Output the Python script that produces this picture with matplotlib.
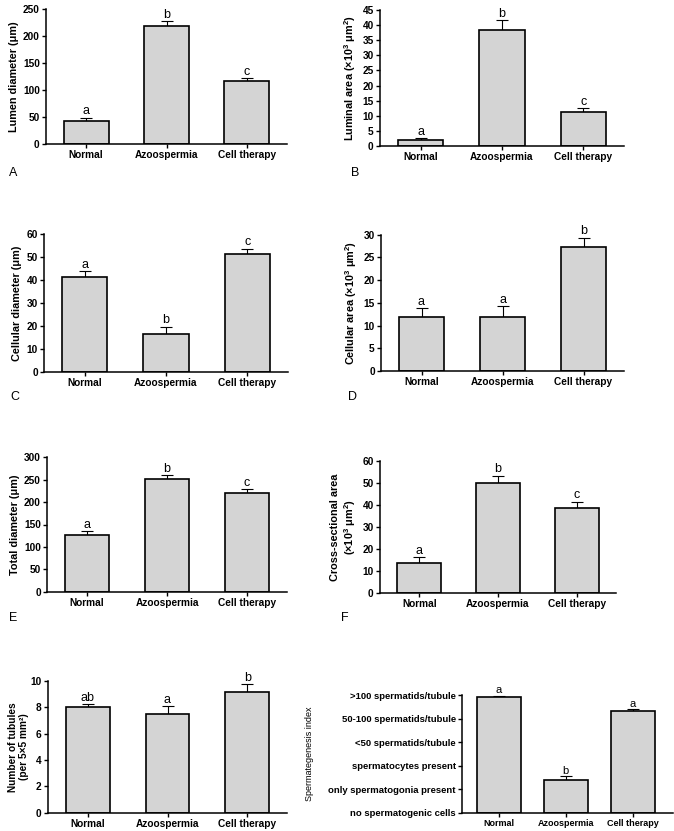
import numpy as np
import matplotlib
matplotlib.use("Agg")
import matplotlib.pyplot as plt

plt.rcParams['font.family'] = ['Liberation Sans', 'DejaVu Sans']
plt.rcParams['mathtext.fontset'] = 'custom'
plt.rcParams['mathtext.rm'] = 'Liberation Sans:bold'
plt.rcParams['mathtext.it'] = 'Liberation Sans:italic:bold'
plt.rcParams['mathtext.bf'] = 'Liberation Sans:bold'

# date
grupuri = ["Normal", "Azoospermia", "Cell therapy"]

lumen_diam = [43.5, 219, 116]
lumen_diam_err = [5, 8, 5.5]
lumen_diam_lit = ["a", "b", "c"]

lumen_area = [1.9, 38.4, 11.3]
lumen_area_err = [0.7, 3.3, 1.2]
lumen_area_lit = ["a", "b", "c"]

cel_diam = [41.2, 16.3, 51.5]
cel_diam_err = [2.6, 3.3, 2.2]
cel_diam_lit = ["a", "b", "c"]

cel_area = [11.9, 11.9, 27.4]
cel_area_err = [1.9, 2.3, 1.9]
cel_area_lit = ["a", "a", "b"]

tot_diam = [126, 251.5, 220]
tot_diam_err = [9.5, 8, 8.5]
tot_diam_lit = ["a", "b", "c"]

sect_area = [13.7, 50.1, 38.6]
sect_area_err = [2.4, 3.2, 2.9]
sect_area_lit = ["a", "b", "c"]

nr_tubuli = [8.0, 7.5, 9.17]
nr_tubuli_err = [0.25, 0.57, 0.58]
nr_tubuli_lit = ["ab", "a", "b"]

sperm_idx = [4.92, 1.38, 4.32]
sperm_idx_err = [0.07, 0.17, 0.1]
sperm_idx_lit = ["a", "b", "a"]
sperm_etichete = ["no spermatogenic cells", "only spermatogonia present",
                  "spermatocytes present", "<50 spermatids/tubule",
                  "50-100 spermatids/tubule", ">100 spermatids/tubule"]

W, H = 674, 831
fig = plt.figure(figsize=(W / 100, H / 100), dpi=100)

def axa(x0, x1, ysus, yjos):
    return fig.add_axes([x0 / W, 1 - yjos / H, (x1 - x0) / W, (yjos - ysus) / H])

def panou(ax, val, err, lit, ymax, pas, eticheta, latime=0.56, xlim=(-0.5, 2.5),
          fs_lit=9, fs_tick=7.3, fs_xtick=7.3):
    x = np.arange(len(grupuri))
    ax.bar(x, val, width=latime, color="#d4d4d4", edgecolor="black", linewidth=1.2, zorder=2)
    ax.errorbar(x, val, yerr=[np.zeros(len(val)), err], fmt="none", ecolor="black",
                elinewidth=0.8, capsize=4, capthick=0.8, zorder=1)
    for xi, v, e, l in zip(x, val, err, lit):
        ax.annotate(l, (xi, v + e), xytext=(0, 0.3), textcoords="offset points",
                    ha="center", va="bottom", fontsize=fs_lit)
    ax.set_xlim(*xlim)
    ax.set_ylim(0, ymax)
    if pas is not None:
        ax.set_yticks(np.arange(0, ymax + pas / 2, pas))
    ax.set_xticks(x)
    ax.set_xticklabels(grupuri, fontsize=fs_xtick, fontweight="bold")
    for t in ax.get_yticklabels():
        t.set_fontsize(fs_tick)
        t.set_fontweight("bold")
    ax.spines["top"].set_visible(False)
    ax.spines["right"].set_visible(False)
    ax.spines["left"].set_linewidth(1.1)
    ax.spines["bottom"].set_linewidth(1.1)
    ax.tick_params(axis="both", direction="out", length=3, width=1, pad=1.5)
    ax.set_ylabel(eticheta, fontsize=7.8, fontweight="bold", labelpad=3)

# A
ax = axa(46, 287, 9, 144)
panou(ax, lumen_diam, lumen_diam_err, lumen_diam_lit, 250, 50, "Lumen diameter (μm)")
# B
ax = axa(380, 624, 10, 146)
panou(ax, lumen_area, lumen_area_err, lumen_area_lit, 45, 5, "Luminal area (×10$^3$ μm$^2$)")
# C
ax = axa(44, 288, 234.3, 371.7)
panou(ax, cel_diam, cel_diam_err, cel_diam_lit, 60, 10, "Cellular diameter (μm)")
# D
ax = axa(381, 624, 234.7, 371)
panou(ax, cel_area, cel_area_err, cel_area_lit, 30, 5, "Cellular area (×10$^3$ μm$^2$)")
# E
ax = axa(47, 287, 457.3, 591.7)
panou(ax, tot_diam, tot_diam_err, tot_diam_lit, 300, 50, "Total diameter (μm)")
# F
ax = axa(380, 616, 461, 592.7)
panou(ax, sect_area, sect_area_err, sect_area_lit, 60, 10,
      "Cross-sectional area\n(×10$^3$ μm$^2$)")
# G
ax = axa(48, 287, 681, 812.7)
panou(ax, nr_tubuli, nr_tubuli_err, nr_tubuli_lit, 10, 2,
      "Number of tubules\n(per 5×5 mm²)", latime=0.55)
ax.yaxis.label.set_fontsize(7.3)
ax.yaxis.labelpad = 1
# H
ax = axa(462, 673, 695.3, 812.7)
panou(ax, sperm_idx, sperm_idx_err, sperm_idx_lit, 5, 1, "Spermategenesis index",
      latime=0.66, xlim=(-0.55, 2.6), fs_lit=8, fs_tick=6.8, fs_xtick=6.5)
ax.set_yticklabels(sperm_etichete, fontsize=6.8, fontweight="bold")
ax.yaxis.label.set_fontsize(6.5)
ax.yaxis.label.set_fontweight("normal")
ax.yaxis.set_label_coords(-0.70, 0.5)

# litere panouri
for lit, xp, yp in [("A", 13, 173), ("B", 355, 173), ("C", 15, 397.5),
                    ("D", 352, 397), ("E", 13, 618), ("F", 345, 618)]:
    fig.text(xp / W, 1 - yp / H, lit, fontsize=9, ha="center", va="center")

plt.savefig("out.png", dpi=100)
